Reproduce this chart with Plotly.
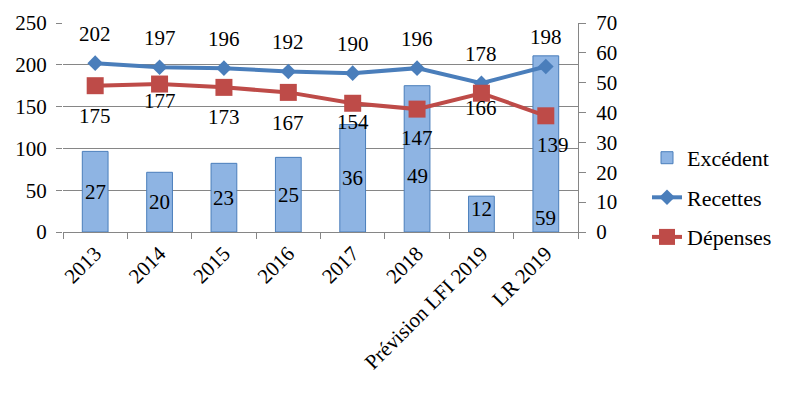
import plotly.graph_objects as go

categories = ["2013", "2014", "2015", "2016", "2017", "2018", "Prévision LFI 2019", "LR 2019"]
excedent = [27, 20, 23, 25, 36, 49, 12, 59]
recettes = [202, 197, 196, 192, 190, 196, 178, 198]
depenses = [175, 177, 173, 167, 154, 147, 166, 139]

# label placement styling (pixel shifts, like the original chart's label layout)
rec_shift = [29] * 8
dep_shift = [-30, -17, -30, -31, -19, -29, -15, -29]
dep_xshift = [0, 0, 0, 0, 0, 0, 0, 7]
exc_shift = [0, 0, 0, 0, 0, -17, 5, -74]

FONT = "Liberation Serif"
FS = 21
GRID = "#868686"
BLUE = "rgb(74,126,187)"
RED = "rgb(190,75,72)"

fig = go.Figure()
fig.add_trace(go.Bar(
    x=categories, y=excedent, name="Excédent", yaxis="y",
    marker=dict(color="rgb(142,180,227)", line=dict(color=BLUE, width=1)),
    width=0.4, legendgroup="a",
))
fig.add_trace(go.Scatter(
    x=categories, y=recettes, name="Recettes", yaxis="y2", mode="lines+markers",
    line=dict(color=BLUE, width=4), marker=dict(symbol="diamond", size=12, color=BLUE),
    legendgroup="b",
))
fig.add_trace(go.Scatter(
    x=categories, y=depenses, name="Dépenses", yaxis="y2", mode="lines+markers",
    line=dict(color=RED, width=4), marker=dict(symbol="square", size=17, color=RED),
    legendgroup="c",
))

ann = []
for i, c in enumerate(categories):
    ann.append(dict(x=i, y=recettes[i], xref="x", yref="y2", text=str(recettes[i]),
                    showarrow=False, yshift=rec_shift[i]))
    ann.append(dict(x=i, y=depenses[i], xref="x", yref="y2", text=str(depenses[i]),
                    showarrow=False, yshift=dep_shift[i], xshift=dep_xshift[i]))
    ann.append(dict(x=i, y=excedent[i] / 2, xref="x", yref="y", text=str(excedent[i]),
                    showarrow=False, yshift=exc_shift[i]))
for a in ann:
    a["font"] = dict(family=FONT, size=FS, color="black")

fig.update_layout(
    width=788, height=389,
    margin=dict(l=55, r=218, t=15, b=165),
    paper_bgcolor="white", plot_bgcolor="white",
    font=dict(family=FONT, size=FS, color="black"),
    showlegend=True,
    legend=dict(x=1.134, xanchor="left", y=0.455, yanchor="top",
                traceorder="grouped", tracegroupgap=8,
                font=dict(family=FONT, size=22, color="black"),
                bgcolor="rgba(0,0,0,0)"),
    bargap=0.6,
    xaxis=dict(type="category", tickangle=-45, tickson="boundaries",
               range=[-0.5, len(categories) - 0.5], automargin=False,
               ticks="outside", ticklen=6, tickcolor=GRID,
               showline=True, linecolor=GRID, linewidth=1, showgrid=False,
               tickfont=dict(family=FONT, size=FS)),
    yaxis=dict(side="right", range=[0, 70], dtick=10, showgrid=False, automargin=False,
               showline=True, linecolor=GRID, ticks="outside", ticklen=7, tickcolor=GRID,
               zeroline=False, ticklabelstandoff=6, tickfont=dict(family=FONT, size=FS)),
    yaxis2=dict(side="left", overlaying="y", range=[0, 250], dtick=50, automargin=False,
                showgrid=True, gridcolor=GRID, gridwidth=1, showline=False,
                ticks="outside", ticklen=6, tickcolor=GRID, zeroline=False,
                ticklabelstandoff=5, tickfont=dict(family=FONT, size=FS)),
    annotations=ann,
)

fig.write_html("out.html")
